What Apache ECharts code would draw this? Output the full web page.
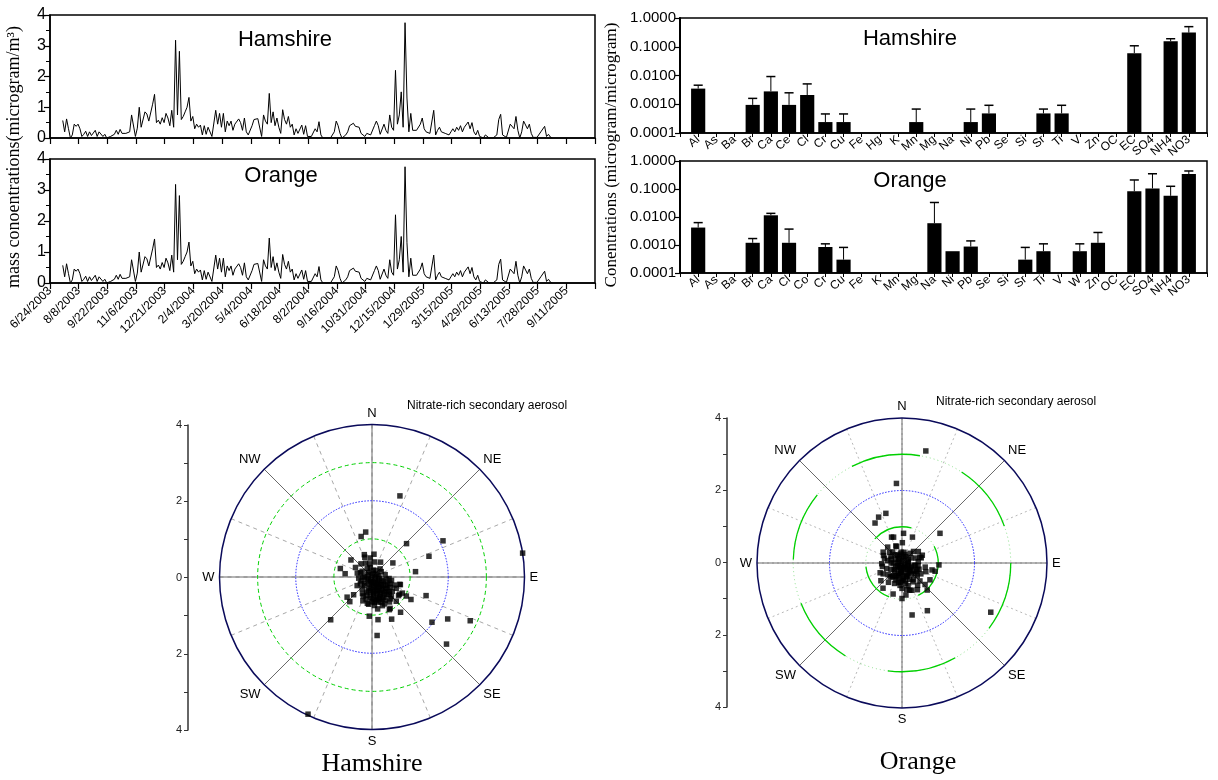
<!DOCTYPE html>
<html>
<head>
<meta charset="utf-8">
<script src="https://cdn.jsdelivr.net/npm/echarts@6/dist/echarts.min.js"></script>
<style>
html, body { margin: 0; padding: 0; background: #fff; }
#chart { width: 1218px; height: 780px; }
</style>
</head>
<body>
<div id="chart"></div>
<script>
// time axis: days since 6/24/2003, a tick every 45 days
const dateTicks = ['6/24/2003', '8/8/2003', '9/22/2003', '11/6/2003', '12/21/2003', '2/4/2004',
    '3/20/2004', '5/4/2004', '6/18/2004', '8/2/2004', '9/16/2004', '10/31/2004', '12/15/2004',
    '1/29/2005', '3/15/2005', '4/29/2005', '6/13/2005', '7/28/2005', '9/11/2005'];
const firstDay = 20;  // first sample
const stepDays = 3;   // one sample every third day
const massConc = [
    0.57, 0.2, 0.62, 0.3, 0.0, 0.1, 0.45, 0.38, 0.45, 0.3,
    0.05, 0.12, 0.22, 0.05, 0.2, 0.08, 0.03, 0.25, 0.05, 0.2,
    0.15, 0.05, 0.12, 0.0, 0.02, 0.05, 0.1, 0.12, 0.25, 0.12,
    0.28, 0.15, 0.18, 0.15, 0.18, 0.2, 0.75, 0.8, 0.05, 0.32,
    1.0, 0.35, 0.4, 0.85, 0.78, 0.55, 0.5, 1.1, 1.42,
    0.5, 0.58, 0.45, 0.66, 0.5, 0.8, 0.65, 0.4, 0.9, 0.35,
    3.18, 0.75, 2.82, 0.6, 0.7, 0.85, 1.0, 1.32, 0.55, 0.7,
    0.3, 0.45, 0.35, 0.42, 0.1, 0.4, 0.12, 0.35, 0.3, 0.05,
    0.0, 0.9, 0.45, 0.8, 0.35, 0.8, 0.2, 0.55, 0.4, 0.55,
    0.25, 0.45, 0.5, 0.62, 0.5, 0.25, 0.65, 0.2, 0.1, 0.05,
    0.4, 0.6, 0.65, 0.63, 0.62,
    0.05, 0.75, 0.55, 0.45, 1.45, 0.5, 0.85, 0.4, 0.65, 0.35,
    0.15, 0.92, 0.6, 0.45, 0.7, 0.35, 0.45, 0.1, 0.3, 0.15,
    0.1, 0.42, 0.12, 0.4, 0.05, 0.02, 0.05, 0.1, 0.3, 0.2,
    0.53, 0.1, 0.0, 0.0, 0.0, 0.03, 0.0, 0.05, 0.2, 0.55,
    0.4, 0.15, 0.0, 0.0, 0.1, 0.2, 0.4, 0.38, 0.48, 0.38,
    0.42, 0.35, 0.15,
    0.15, 0.05, 0.15, 0.2, 0.1, 0.15, 0.4, 0.55, 0.4, 0.12,
    0.15, 0.45, 0.25, 0.15, 0.75, 0.35, 0.25, 2.2, 0.45, 0.75,
    1.5, 0.35, 3.75, 1.3, 0.2, 0.8, 0.25, 0.25, 0.25, 0.25,
    0.45, 0.65, 0.3, 0.2, 0.25, 0.15, 0.1, 0.9, 0.1, 0.25,
    0.35, 0.2, 0.25, 0.15, 0.2, 0.1, 0.2, 0.3, 0.2, 0.35,
    0.25, 0.4, 0.2, 0.35,
    0.35, 0.52, 0.3, 0.5, 0.2, 0.1, 0.25, 0.05, 0.08, 0.0,
    0.1, 0.12, 0.0, 0.0, 0.0, 0.0, 0.1, 0.6, 0.77, 0.1,
    0.05, 0.02, 0.08, 0.45, 0.5, 0.3, 0.7, 0.25, 0.0, 0.2,
    0.55, 0.5, 0.3, 0.45, 0.15, 0.02, 0.03, 0.02, 0.05, 0.2,
    0.15, 0.38, 0.05, 0.12, 0.03, 0.0
];

// source profiles (microgram/microgram), null = no bar
const hamSpecies = ['Al', 'As', 'Ba', 'Br', 'Ca', 'Ce', 'Cl', 'Cr', 'Cu', 'Fe', 'Hg', 'K', 'Mn', 'Mg',
    'Na', 'Ni', 'Pb', 'Se', 'Si', 'Sr', 'Ti', 'V', 'Zn', 'OC', 'EC', 'SO4', 'NH4', 'NO3'];
const hamProfile = [0.0035, null, null, 0.00095, 0.0028, 0.00095, 0.0021, 0.00024, 0.00024, null, null, null,
    0.00024, null, null, 0.00024, 0.00048, null, null, 0.00048, 0.00048, null, null, null, 0.06, null, 0.155, 0.31];
const hamError = [0.0046, null, null, 0.0016, 0.0092, 0.0025, 0.0051, 0.00046, 0.00046, null, null, null,
    0.00068, null, null, 0.00068, 0.00092, null, null, 0.00068, 0.00092, null, null, null, 0.108, null, 0.19, 0.5];
const orgSpecies = ['Al', 'As', 'Ba', 'Br', 'Ca', 'Cl', 'Co', 'Cr', 'Cu', 'Fe', 'K', 'Mn', 'Mg', 'Na',
    'Ni', 'Pb', 'Se', 'Si', 'Sr', 'Ti', 'V', 'W', 'Zn', 'OC', 'EC', 'SO4', 'NH4', 'NO3'];
const orgProfile = [0.0042, null, null, 0.0012, 0.0115, 0.0012, null, 0.00085, 0.0003, null, null, null, null,
    0.006, 0.0006, 0.00088, null, null, 0.0003, 0.0006, null, 0.0006, 0.0012, null, 0.083, 0.105, 0.057, 0.34];
const orgError = [0.0063, null, null, 0.0017, 0.0135, 0.0037, null, 0.0011, 0.00082, null, null, null, null,
    0.033, null, 0.0014, null, null, 0.00082, 0.0011, null, 0.0011, 0.0028, null, 0.21, 0.35, 0.125, 0.44];

// wind rose points: [concentration, wind direction in degrees]
const hamWind = [
    [2.25, 19], [4.0, 81], [2.09, 63], [1.59, 70], [1.26, 46], [1.15, 83], [1.5, 109], [1.18, 120], [1.03, 119],
    [1.97, 127], [2.27, 119], [2.82, 114], [2.63, 132], [1.19, 141], [1.22, 155], [1.13, 172], [1.54, 175],
    [1.03, 184], [1.56, 224], [3.97, 205], [0.84, 231], [0.87, 222], [0.67, 226], [0.86, 285], [0.71, 277],
    [1.1, 345], [1.19, 352], [0.71, 309], [0.62, 341], [0.77, 105], [0.66, 56], [0.85, 122], [0.97, 152],
    [0.67, 201], [0.72, 187],
    [0.1, 20], [0.15, 60], [0.2, 100], [0.25, 140], [0.3, 160], [0.35, 170], [0.4, 150], [0.45, 165], [0.5, 175], [0.55, 160],
    [0.2, 200], [0.3, 190], [0.4, 185], [0.5, 195], [0.6, 170], [0.65, 155], [0.7, 150], [0.75, 140], [0.8, 160], [0.85, 170],
    [0.1, 250], [0.2, 270], [0.3, 300], [0.25, 330], [0.35, 350], [0.4, 10], [0.45, 30], [0.3, 45], [0.35, 80], [0.45, 95],
    [0.5, 110], [0.55, 120], [0.6, 130], [0.65, 125], [0.7, 115], [0.75, 105], [0.2, 120], [0.15, 180], [0.25, 230], [0.3, 250],
    [0.4, 220], [0.5, 210], [0.55, 205], [0.6, 195], [0.45, 240], [0.35, 265], [0.4, 285], [0.5, 300], [0.45, 320], [0.55, 340],
    [0.6, 5], [0.5, 355], [0.4, 335], [0.65, 180], [0.7, 190], [0.75, 175], [0.8, 145], [0.9, 135], [0.95, 150], [0.6, 140],
    [0.35, 135], [0.28, 155], [0.38, 175], [0.48, 150], [0.58, 165], [0.68, 165], [0.72, 135], [0.62, 110], [0.52, 100], [0.42, 120],
    [0.12, 300], [0.08, 90], [0.18, 150], [0.22, 170], [0.32, 110], [0.42, 140], [0.52, 130], [0.62, 150], [0.85, 125], [0.9, 118],
    [0.05, 0], [0.1, 120], [0.12, 200], [0.15, 240], [0.18, 80], [0.22, 140], [0.26, 185], [0.3, 130], [0.33, 150], [0.36, 195],
    [0.4, 160], [0.44, 175], [0.47, 130], [0.5, 155], [0.53, 185], [0.56, 145], [0.6, 160], [0.64, 135], [0.67, 175], [0.7, 160],
    [0.2, 30], [0.25, 350], [0.28, 60], [0.15, 320], [0.3, 220], [0.35, 240], [0.38, 100], [0.42, 200], [0.46, 115], [0.5, 140],
    [0.24, 270], [0.32, 290], [0.18, 10], [0.08, 200], [0.14, 160], [0.27, 110], [0.37, 125], [0.57, 180], [0.63, 170], [0.78, 155]
];
const orgWind = [
    [3.16, 12], [2.2, 356], [1.44, 342], [1.42, 333], [1.33, 326], [1.33, 52], [2.8, 119], [1.49, 152], [1.46, 169],
    [0.77, 22], [0.82, 3], [0.77, 338], [0.75, 342], [0.48, 342], [0.56, 1], [1.02, 93], [0.94, 104], [0.85, 103],
    [0.9, 121], [1.02, 137], [0.87, 133], [0.87, 217], [0.89, 196], [0.98, 180], [0.76, 230], [0.66, 246],
    [0.56, 268], [0.55, 292], [0.59, 318], [0.47, 215], [0.89, 173], [0.78, 164], [0.52, 72], [0.6, 69],
    [0.1, 30], [0.15, 90], [0.2, 150], [0.25, 180], [0.3, 200], [0.35, 160], [0.4, 140], [0.45, 120], [0.5, 170], [0.55, 190],
    [0.2, 240], [0.3, 270], [0.35, 300], [0.25, 330], [0.3, 10], [0.35, 40], [0.4, 70], [0.45, 100], [0.5, 110], [0.55, 130],
    [0.6, 150], [0.65, 165], [0.7, 180], [0.75, 170], [0.8, 160], [0.6, 200], [0.65, 215], [0.5, 230], [0.45, 250], [0.4, 280],
    [0.45, 310], [0.5, 340], [0.3, 355], [0.2, 60], [0.15, 210], [0.1, 300], [0.25, 120], [0.35, 100], [0.45, 85], [0.55, 75],
    [0.6, 120], [0.7, 135], [0.75, 145], [0.85, 150], [0.5, 155], [0.4, 175], [0.3, 185], [0.4, 205], [0.5, 220], [0.6, 240],
    [0.55, 260], [0.5, 285], [0.6, 300], [0.4, 320], [0.2, 340], [0.25, 20], [0.45, 45], [0.55, 55], [0.65, 100], [0.7, 110],
    [0.12, 150], [0.18, 110], [0.22, 190], [0.28, 230], [0.32, 140], [0.38, 160], [0.42, 195], [0.48, 180], [0.58, 170], [0.62, 185],
    [0.05, 0], [0.1, 120], [0.12, 200], [0.15, 240], [0.18, 80], [0.22, 140], [0.26, 185], [0.3, 130], [0.33, 150], [0.36, 195],
    [0.4, 160], [0.44, 175], [0.47, 130], [0.5, 200], [0.53, 185], [0.56, 145], [0.2, 30], [0.25, 350], [0.28, 60], [0.15, 320],
    [0.3, 220], [0.35, 240], [0.38, 100], [0.42, 215], [0.46, 115], [0.24, 270], [0.32, 290], [0.18, 10], [0.08, 200], [0.14, 160],
    [0.27, 110], [0.37, 125], [0.1, 270], [0.2, 300], [0.3, 320]
];
const compass = ['N', 'NE', 'E', 'SE', 'S', 'SW', 'W', 'NW'];

const sans = '"Liberation Sans Narrow", "Liberation Sans", Arial, sans-serif';
const serif = '"Liberation Serif", "Times New Roman", serif';
const logMin = 0.0001;

const seriesPoints = massConc.map((v, i) => [firstDay + i * stepDays, v]);

function profileData(vals, errs) {
    let out = [];
    vals.forEach((v, i) => {
        if (v != null) out.push([i + 1, v, errs[i] == null ? v : errs[i]]);
    });
    return out;
}

// bar + upper error whisker drawn through the axes
function profileBar(params, api) {
    let x = api.value(0), v = api.value(1), e = api.value(2);
    let top = api.coord([x, v]);
    let base = api.coord([x, logMin]);
    let slot = api.coord([x + 1, v])[0] - top[0];
    let w = slot * 0.78;
    let kids = [{
        type: 'rect',
        shape: { x: top[0] - w / 2, y: top[1], width: w, height: base[1] - top[1] },
        style: { fill: '#000' }
    }];
    if (e > v) {
        let et = api.coord([x, e]);
        kids.push({ type: 'line', shape: { x1: top[0], y1: top[1], x2: top[0], y2: et[1] },
            style: { stroke: '#000', lineWidth: 1 } });
        kids.push({ type: 'line', shape: { x1: top[0] - w * 0.32, y1: et[1], x2: top[0] + w * 0.32, y2: et[1] },
            style: { stroke: '#000', lineWidth: 1.5 } });
    }
    return { type: 'group', children: kids };
}

// grids: 0,1 time series; 2,3 profiles; 4,5 left scales of the wind roses
const grids = [
    { left: 50, top: 15, width: 545, height: 123 },
    { left: 50, top: 159, width: 545, height: 124 },
    { left: 680, top: 18, width: 527, height: 115 },
    { left: 680, top: 161, width: 527, height: 112 },
    { left: 188, top: 425, width: 1, height: 305 },
    { left: 727, top: 418, width: 1, height: 289 }
].map(g => Object.assign({ show: g.width > 1, borderColor: '#000', borderWidth: 1.5 }, g));

function timeX(idx, labels) {
    return {
        gridIndex: idx, type: 'value', min: 0, max: 855, interval: 45,
        axisLine: { lineStyle: { color: '#000', width: 1.5 } },
        axisTick: { length: 6, lineStyle: { color: '#000', width: 1.2 } },
        axisLabel: {
            show: labels, rotate: 45, fontSize: 12, fontFamily: sans, color: '#000', margin: 6,
            formatter: v => dateTicks[Math.round(v / 45)] || ''
        },
        splitLine: { show: false }
    };
}
function timeY(idx) {
    return {
        gridIndex: idx, type: 'value', min: 0, max: 4, interval: 1,
        axisLine: { show: true, lineStyle: { color: '#000', width: 1.5 } },
        axisTick: { show: true, length: 6, lineStyle: { color: '#000', width: 1.2 } },
        minorTick: { show: true, splitNumber: 2, length: 4, lineStyle: { color: '#000' } },
        axisLabel: { fontSize: 16, fontFamily: '"Liberation Sans", Arial', color: '#000', margin: 4 },
        splitLine: { show: false }
    };
}
function profileX(idx, names) {
    return {
        gridIndex: idx, type: 'value', min: 0, max: 29, interval: 1,
        axisLine: { lineStyle: { color: '#000', width: 1.5 } },
        axisTick: { length: 4, lineStyle: { color: '#000' } },
        axisLabel: {
            rotate: 40, fontSize: 12, fontFamily: sans, color: '#000', margin: 5,
            formatter: v => names[v - 1] || ''
        },
        splitLine: { show: false }
    };
}
function profileY(idx) {
    return {
        gridIndex: idx, type: 'log', logBase: 10, min: logMin, max: 1,
        axisLine: { show: true, lineStyle: { color: '#000', width: 2 } },
        axisTick: { show: true, length: 5, lineStyle: { color: '#000', width: 1.2 } },
        axisLabel: { fontSize: 15, fontFamily: sans, color: '#000', margin: 4, formatter: v => v.toFixed(4) },
        splitLine: { show: false }
    };
}
function roseX(idx) {
    return { gridIndex: idx, type: 'value', show: false, min: 0, max: 1 };
}
function roseY(idx) {
    return {
        gridIndex: idx, type: 'value', min: -4, max: 4, interval: 2,
        axisLine: { show: true, lineStyle: { color: '#333', width: 1.5 } },
        axisTick: { show: true, length: 4, lineStyle: { color: '#333' } },
        minorTick: { show: true, splitNumber: 2, length: 4, lineStyle: { color: '#333' } },
        axisLabel: { fontSize: 11, fontFamily: '"Liberation Sans", Arial', color: '#222', margin: 6,
            formatter: v => String(Math.abs(v)) },
        splitLine: { show: false }
    };
}

// polar layers: each ring / spoke style is its own polar sharing the centre
const polars = [], angleAxes = [], radiusAxes = [];
function addPolar(center, radius, angleOpt) {
    let idx = polars.length;
    polars.push({ center: center, radius: radius });
    radiusAxes.push({ polarIndex: idx, type: 'value', min: 0, max: 4, show: false });
    angleAxes.push(Object.assign({
        polarIndex: idx, type: 'value', min: 0, max: 360, startAngle: 90, clockwise: true,
        axisLine: { show: false }, axisTick: { show: false }, axisLabel: { show: false }, splitLine: { show: false }
    }, angleOpt));
    return idx;
}
function buildRose(center, R, look) {
    let main = addPolar(center, R, {
        interval: 22.5,
        axisLine: { show: true, lineStyle: { color: '#0a0a5a', width: 1.5 } },
        splitLine: { show: true, lineStyle: { color: look.minor, type: look.minorDash, width: 1 } }
    });
    addPolar(center, R, {
        interval: 45,
        splitLine: { show: true, lineStyle: { color: '#6a6a6a', width: 1 } },
        axisLabel: { show: true, margin: 5, fontSize: 13, fontFamily: '"Liberation Sans", Arial', color: '#000',
            formatter: v => (v < 360 ? compass[Math.round(v / 45)] : '') }
    });
    look.rings.forEach(rg => {
        addPolar(center, R * rg.r / 4, {
            axisLine: { show: true, lineStyle: { color: rg.color, type: rg.dash, width: rg.width || 1 } }
        });
    });
    return main;
}
const hamPolar = buildRose([372, 577], 152.5, {
    minor: '#a8a8a8', minorDash: [4, 4],
    rings: [
        { r: 1, color: '#00d000', dash: [4, 3] },
        { r: 2, color: '#2020ff', dash: [1.5, 1.5] },
        { r: 3, color: '#00d000', dash: [4, 3] }
    ]
});
const orgPolar = buildRose([902, 563], 145, {
    minor: '#b8b8b8', minorDash: [2, 3],
    rings: [
        { r: 1, color: '#8be08b', dash: [1, 3] },
        { r: 1, color: '#00d000', dash: [40, 30], width: 1.3 },
        { r: 2, color: '#2020ff', dash: [1.5, 1.5] },
        { r: 3, color: '#8be08b', dash: [1, 3] },
        { r: 3, color: '#00d000', dash: [70, 45], width: 1.3 }
    ]
});

function label(text, x, y, font, opt) {
    return {
        type: 'text', x: x, y: y,
        style: Object.assign({ text: text, font: font, fill: '#000', align: 'center', verticalAlign: 'middle' }, opt || {})
    };
}
function rotLabel(text, x, y, font) {
    return {
        type: 'text', x: x, y: y, rotation: Math.PI / 2,
        style: { text: text, font: font, fill: '#000', align: 'center', verticalAlign: 'middle' }
    };
}

let chart = echarts.init(document.getElementById('chart'));
let option = {
    animation: false,
    backgroundColor: '#fff',
    grid: grids,
    xAxis: [timeX(0, false), timeX(1, true), profileX(2, hamSpecies), profileX(3, orgSpecies), roseX(4), roseX(5)],
    yAxis: [timeY(0), timeY(1), profileY(2), profileY(3), roseY(4), roseY(5)],
    polar: polars,
    angleAxis: angleAxes,
    radiusAxis: radiusAxes,
    series: [
        { type: 'line', xAxisIndex: 0, yAxisIndex: 0, data: seriesPoints, showSymbol: false,
            lineStyle: { color: '#000', width: 1 } },
        { type: 'line', xAxisIndex: 1, yAxisIndex: 1, data: seriesPoints, showSymbol: false,
            lineStyle: { color: '#000', width: 1 } },
        { type: 'custom', xAxisIndex: 2, yAxisIndex: 2, data: profileData(hamProfile, hamError),
            renderItem: profileBar, encode: { x: 0, y: 1 } },
        { type: 'custom', xAxisIndex: 3, yAxisIndex: 3, data: profileData(orgProfile, orgError),
            renderItem: profileBar, encode: { x: 0, y: 1 } },
        { type: 'scatter', coordinateSystem: 'polar', polarIndex: hamPolar, data: hamWind,
            symbol: 'rect', symbolSize: 5.5, itemStyle: { color: '#000' }, z: 5 },
        { type: 'scatter', coordinateSystem: 'polar', polarIndex: orgPolar, data: orgWind,
            symbol: 'rect', symbolSize: 5.5, itemStyle: { color: '#000' }, z: 5 }
    ],
    graphic: [
        rotLabel('mass conoentrations(microgram/m\u00b3)', 14, 157, '18px ' + serif),
        rotLabel('Conentrations (microgram/microgram)', 612, 155, '17px ' + serif),
        label('Hamshire', 285, 40, '22px ' + sans),
        label('Orange', 281, 176, '22px ' + sans),
        label('Hamshire', 910, 39, '22px ' + sans),
        label('Orange', 910, 181, '22px ' + sans),
        label('Nitrate-rich secondary aerosol', 407, 406, '12px "Liberation Sans", Arial', { align: 'left' }),
        label('Nitrate-rich secondary aerosol', 936, 402, '12px "Liberation Sans", Arial', { align: 'left' }),
        label('Hamshire', 372, 764, '26px ' + serif),
        label('Orange', 918, 762, '26px ' + serif)
    ]
};
chart.setOption(option);
</script>
</body>
</html>
